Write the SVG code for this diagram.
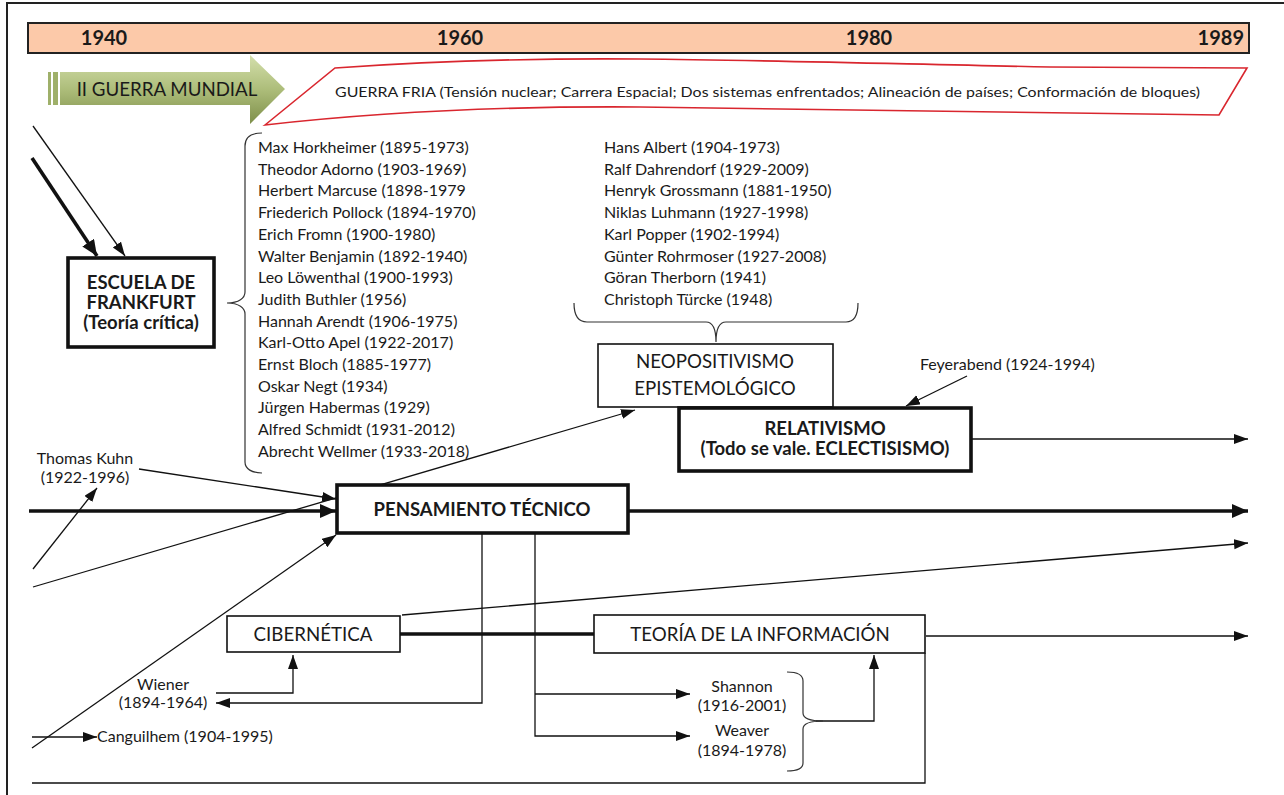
<svg xmlns="http://www.w3.org/2000/svg" width="1284" height="795" viewBox="0 0 1284 795">
  <style>
    text { font-family: Lato, "Liberation Sans", sans-serif; fill: #1a1a1a; }
    .yr { font-size: 20px; font-weight: bold; }
    .t15 { font-size: 16px; }
    .t14 { font-size: 14.3px; }
    .box { fill: #fff; stroke: #111; stroke-width: 1.6; }
    .boxB { fill: #fff; stroke: #111; stroke-width: 3.6; }
    .lbl { font-size: 18.7px; text-anchor: middle; }
    .lblB { font-size: 18.5px; font-weight: bold; text-anchor: middle; }
    .ln { fill: none; stroke: #111; stroke-width: 1.3; }
    .lnB { fill: none; stroke: #111; stroke-width: 3.6; }
    .brace { fill: none; stroke: #333; stroke-width: 1.2; }
    .mid { text-anchor: middle; }
  </style>
  <defs>
    <marker id="ah" markerUnits="userSpaceOnUse" markerWidth="16" markerHeight="12" refX="14" refY="5" orient="auto">
      <path d="M0,0 L14,5 L0,10 Z" fill="#111"/>
    </marker>
    <marker id="ahB" markerUnits="userSpaceOnUse" markerWidth="20" markerHeight="16" refX="16" refY="7" orient="auto">
      <path d="M0,0 L16,7 L0,14 Z" fill="#111"/>
    </marker>
    <linearGradient id="green" x1="0" y1="0" x2="0" y2="1">
      <stop offset="0" stop-color="#d4dfac"/>
      <stop offset="0.5" stop-color="#adbd7a"/>
      <stop offset="1" stop-color="#7e8f4a"/>
    </linearGradient>
  </defs>

  <!-- frame -->
  <path d="M7,795 L7,3 L1284,3" fill="none" stroke="#222" stroke-width="2"/>

  <!-- timeline bar -->
  <g id="timeline">
    <rect x="28" y="23" width="1221" height="30" fill="#fcc9a9" stroke="#222" stroke-width="2"/>
    <text class="yr" x="104" y="45" text-anchor="middle">1940</text>
    <text class="yr" x="460" y="45" text-anchor="middle">1960</text>
    <text class="yr" x="869" y="45" text-anchor="middle">1980</text>
    <text class="yr" x="1244" y="45" text-anchor="end">1989</text>
  </g>

  <!-- second world war arrow -->
  <g id="guerra-mundial">
    <rect x="48" y="72" width="3" height="33" fill="#9fb06a"/>
    <rect x="53" y="72" width="5" height="33" fill="#9fb06a"/>
    <path d="M60,72 L250,72 L250,55 L285,89 L250,124 L250,105 L60,105 Z" fill="url(#green)"/>
    <text x="167" y="96" font-size="18.7" text-anchor="middle">II GUERRA MUNDIAL</text>
  </g>

  <!-- cold war banner -->
  <g id="guerra-fria">
    <path d="M265,125 L335,68 C420,62 520,58 640,59 C760,60 900,64 1050,67 L1247,68 L1219,115 C1100,114 900,111 640,107 C500,106 380,112 265,125 Z" fill="#fff" stroke="#d9262e" stroke-width="1.6"/>
    <text class="t14" x="335" y="97" textLength="865" lengthAdjust="spacingAndGlyphs">GUERRA FRIA (Tensión nuclear; Carrera Espacial; Dos sistemas enfrentados; Alineación de países; Conformación de bloques)</text>
  </g>

  <!-- connectors -->
  <g id="connectors">
    <line class="ln" x1="33" y1="126" x2="125" y2="256" marker-end="url(#ah)"/>
    <line class="lnB" x1="32" y1="158" x2="97" y2="256" marker-end="url(#ahB)"/>
    <line class="ln" x1="139" y1="469" x2="336" y2="499" marker-end="url(#ah)"/>
    <line class="lnB" x1="29" y1="511" x2="336" y2="511" marker-end="url(#ahB)"/>
    <line class="ln" x1="33" y1="569" x2="97" y2="488" marker-end="url(#ah)"/>
    <line class="ln" x1="33" y1="587" x2="635" y2="410" marker-end="url(#ah)"/>
    <line class="ln" x1="32" y1="748" x2="336" y2="535" marker-end="url(#ah)"/>
    <line class="lnB" x1="628" y1="511" x2="1248" y2="511" marker-end="url(#ahB)"/>
    <line class="ln" x1="402" y1="615" x2="1248" y2="543" marker-end="url(#ah)"/>
    <line class="lnB" x1="400" y1="634" x2="594" y2="634"/>
    <line class="ln" x1="926" y1="636" x2="1248" y2="636" marker-end="url(#ah)"/>
    <polyline class="ln" points="216,693 293,693 293,655" marker-end="url(#ah)"/>
    <polyline class="ln" points="482,534 482,703 216,703" marker-end="url(#ah)"/>
    <polyline class="ln" points="535,534 535,736 690,736" marker-end="url(#ah)"/>
    <line class="ln" x1="535" y1="694" x2="690" y2="694" marker-end="url(#ah)"/>
    <polyline class="ln" points="816,721 874,721 874,655" marker-end="url(#ah)"/>
    <polyline class="ln" points="32,783 925,783 925,653"/>
    <line class="ln" x1="32" y1="737" x2="97" y2="737" marker-end="url(#ah)"/>
    <line class="ln" x1="967" y1="376" x2="906" y2="406" marker-end="url(#ah)"/>
    <line class="ln" x1="971" y1="439" x2="1248" y2="439" marker-end="url(#ah)"/>
  </g>

  <!-- Frankfurt school -->
  <g id="escuela-frankfurt">
    <rect class="boxB" x="68" y="258" width="146" height="89"/>
    <text class="lblB" x="141" y="289">ESCUELA DE</text>
    <text class="lblB" x="141" y="309">FRANKFURT</text>
    <text class="lblB" x="141" y="329">(Teoría crítica)</text>
  </g>

  <!-- Frankfurt members -->
  <g id="miembros-frankfurt">
    <path class="brace" d="M262,133 C252,133 245,137 245,146 L245,292 C245,298 239,303 227,303 C239,303 245,308 245,314 L245,462 C245,469 252,473 262,473"/>
    <text class="t15" x="258" y="153">Max Horkheimer (1895-1973)</text>
    <text class="t15" x="258" y="174.7">Theodor Adorno (1903-1969)</text>
    <text class="t15" x="258" y="196.4">Herbert Marcuse (1898-1979</text>
    <text class="t15" x="258" y="218.1">Friederich Pollock (1894-1970)</text>
    <text class="t15" x="258" y="239.8">Erich Fromn (1900-1980)</text>
    <text class="t15" x="258" y="261.5">Walter Benjamin (1892-1940)</text>
    <text class="t15" x="258" y="283.2">Leo Löwenthal (1900-1993)</text>
    <text class="t15" x="258" y="304.9">Judith Buthler (1956)</text>
    <text class="t15" x="258" y="326.6">Hannah Arendt (1906-1975)</text>
    <text class="t15" x="258" y="348.3">Karl-Otto Apel (1922-2017)</text>
    <text class="t15" x="258" y="370">Ernst Bloch (1885-1977)</text>
    <text class="t15" x="258" y="391.7">Oskar Negt (1934)</text>
    <text class="t15" x="258" y="413.4">Jürgen Habermas (1929)</text>
    <text class="t15" x="258" y="435.1">Alfred Schmidt (1931-2012)</text>
    <text class="t15" x="258" y="456.8">Abrecht Wellmer (1933-2018)</text>
  </g>

  <!-- neopositivist members -->
  <g id="miembros-neopositivismo">
    <text class="t15" x="604" y="153">Hans Albert (1904-1973)</text>
    <text class="t15" x="604" y="174.7">Ralf Dahrendorf (1929-2009)</text>
    <text class="t15" x="604" y="196.4">Henryk Grossmann (1881-1950)</text>
    <text class="t15" x="604" y="218.1">Niklas Luhmann (1927-1998)</text>
    <text class="t15" x="604" y="239.8">Karl Popper (1902-1994)</text>
    <text class="t15" x="604" y="261.5">Günter Rohrmoser (1927-2008)</text>
    <text class="t15" x="604" y="283.2">Göran Therborn (1941)</text>
    <text class="t15" x="604" y="304.9">Christoph Türcke (1948)</text>
    <path class="brace" d="M574,303 C574,315 578,322 587,322 L706,322 C712,322 716,328 716,342 C716,328 720,322 726,322 L846,322 C854,322 858,315 858,303"/>
  </g>

  <g id="neopositivismo">
    <rect class="box" x="598" y="344" width="235" height="63"/>
    <text class="lbl" x="715" y="368">NEOPOSITIVISMO</text>
    <text class="lbl" x="715" y="395">EPISTEMOLÓGICO</text>
  </g>

  <g id="relativismo">
    <rect class="boxB" x="679" y="408" width="292" height="63"/>
    <text class="lblB" x="825" y="435">RELATIVISMO</text>
    <text class="lblB" x="825" y="455">(Todo se vale. ECLECTISISMO)</text>
  </g>

  <g id="feyerabend">
    <text class="t15" x="920" y="370">Feyerabend (1924-1994)</text>
  </g>

  <g id="kuhn">
    <text class="t15 mid" x="85" y="464">Thomas Kuhn</text>
    <text class="t15 mid" x="85" y="483">(1922-1996)</text>
  </g>

  <g id="pensamiento-tecnico">
    <rect class="boxB" x="337" y="485" width="291" height="48"/>
    <text class="lblB" x="482" y="516">PENSAMIENTO TÉCNICO</text>
  </g>

  <g id="cibernetica">
    <rect class="box" x="227" y="616" width="173" height="36"/>
    <text class="lbl" x="313" y="641">CIBERNÉTICA</text>
  </g>

  <g id="teoria-informacion">
    <rect class="box" x="594" y="615" width="331" height="38"/>
    <text class="lbl" x="760" y="641">TEORÍA DE LA INFORMACIÓN</text>
  </g>

  <g id="wiener">
    <text class="t15 mid" x="163" y="690">Wiener</text>
    <text class="t15 mid" x="163" y="708">(1894-1964)</text>
  </g>

  <g id="shannon-weaver">
    <text class="t15 mid" x="742" y="692">Shannon</text>
    <text class="t15 mid" x="742" y="711">(1916-2001)</text>
    <text class="t15 mid" x="742" y="736">Weaver</text>
    <text class="t15 mid" x="742" y="756">(1894-1978)</text>
    <path class="brace" d="M787,672 C797,672 803,674 803,681 L803,713 C803,718 809,721 823,721 C809,721 803,724 803,729 L803,763 C803,769 797,771 787,771"/>
  </g>

  <g id="canguilhem">
    <text class="t15" x="97" y="742">Canguilhem (1904-1995)</text>
  </g>
</svg>
